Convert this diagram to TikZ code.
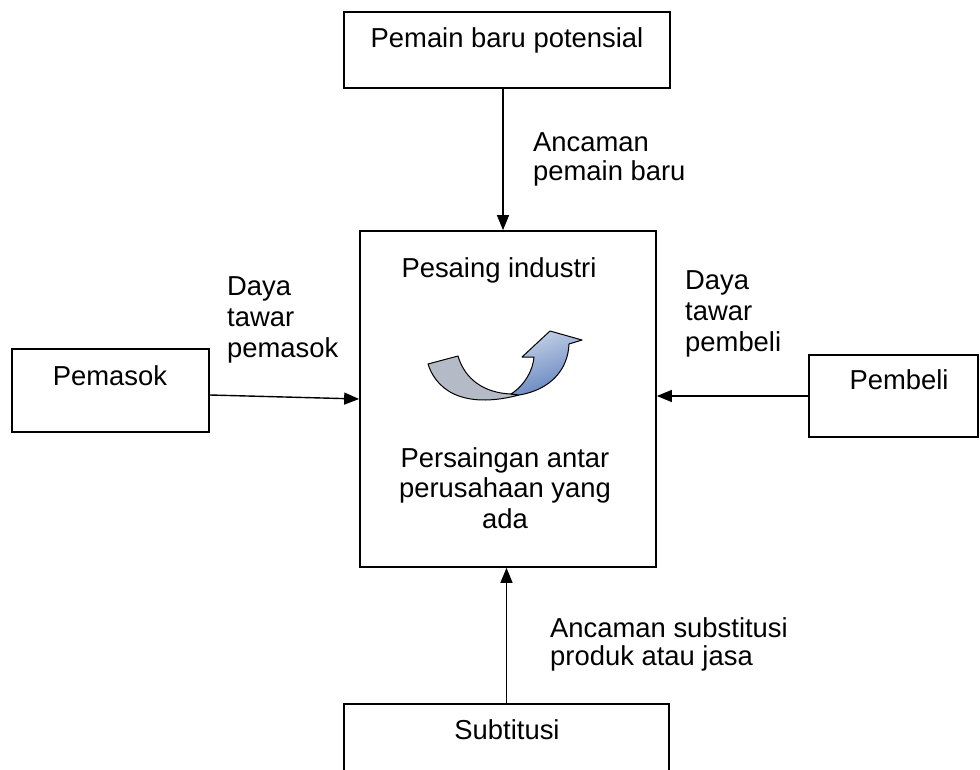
\documentclass[tikz,border=0pt]{standalone}
\usepackage{fontspec}
\setmainfont{Liberation Sans}
\usetikzlibrary{arrows.meta}
\tikzset{
  box/.style={draw=black, line width=1.7pt, rectangle, inner sep=0pt, fill=none},
  arr/.style={line width=1.4pt, -{Triangle[length=15pt,width=12pt]}},
  lbl/.style={inner sep=0pt, font=\fontsize{27.4}{30.5}\selectfont},
}
\begin{document}
\begin{tikzpicture}[x=1pt,y=-1pt]
\useasboundingbox (0,0) rectangle (980,770);
\clip (0,0) rectangle (980,770);
\fill[white] (0,0) rectangle (980,770);
% boxes
\node[box, minimum width=326pt, minimum height=76pt] (top) at (507,50) {};
\node[box, minimum width=296pt, minimum height=336pt] (ctr) at (508,399) {};
\node[box, minimum width=197pt, minimum height=83pt] (pem) at (110.5,390.5) {};
\node[box, minimum width=169pt, minimum height=82pt] (pbl) at (893.5,396) {};
\node[box, minimum width=325pt, minimum height=96pt] (sub) at (506.5,752) {};
% box texts
\node[lbl, anchor=base] (ttop) at (507,48) {Pemain baru potensial};
\node[lbl, anchor=base] (tpes) at (499,277) {Pesaing industri};
\node[lbl, anchor=base] (tper1) at (505,467) {Persaingan antar};
\node[lbl, anchor=base] (tper2) at (505,497) {perusahaan yang};
\node[lbl, anchor=base] (tper3) at (505,528) {ada};
\node[lbl, anchor=base] (tpem) at (110,385) {Pemasok};
\node[lbl, anchor=base] (tpbl) at (899,389) {Pembeli};
\node[lbl, anchor=base] (tsub) at (507,739) {Subtitusi};
% connector labels
\node[lbl, anchor=base west] (l1a) at (533,152) {Ancaman};
\node[lbl, anchor=base west] (l1b) at (533,181) {pemain baru};
\node[lbl, anchor=base west] (l2a) at (227,295) {Daya};
\node[lbl, anchor=base west] (l2b) at (227,326) {tawar};
\node[lbl, anchor=base west] (l2c) at (227,357) {pemasok};
\node[lbl, anchor=base west] (l3a) at (685,289) {Daya};
\node[lbl, anchor=base west] (l3b) at (685,320) {tawar};
\node[lbl, anchor=base west] (l3c) at (685,351) {pembeli};
\node[lbl, anchor=base west] (l4a) at (550,637) {Ancaman substitusi};
\node[lbl, anchor=base west] (l4b) at (550,665) {produk atau jasa};
% connectors
\draw[arr] ([xshift=-4pt]top.south) -- ([xshift=-4pt]top.south |- ctr.north);
\draw[arr] ([yshift=-4.5pt]pem.east) -- (ctr.west);
\draw[arr] (pbl.west) -- (pbl.west -| ctr.east);
\draw[arr] (sub.north) -- (sub.north |- ctr.south);
% curved ribbon arrow icon
\fill[fill={rgb,255:red,180;green,187;blue,198}, draw=black, line width=1pt, line join=round]
  (428,364) -- (458,356) .. controls (465,380) and (485,393) .. (511,394)
  -- (519,395) .. controls (470,408) and (438,395) .. (428,364) -- cycle;
\shade[top color={rgb,255:red,196;green,210;blue,232}, bottom color={rgb,255:red,96;green,128;blue,188}, shading angle=20]
  (511,394) .. controls (525,385) and (533,370) .. (534,357) -- (522,357) -- (550,331)
  -- (582,340) -- (569,344) .. controls (568,370) and (550,390) .. (519,395) -- cycle;
\draw[black, line width=1pt, line join=round]
  (511,394) .. controls (525,385) and (533,370) .. (534,357) -- (522,357) -- (550,331)
  -- (582,340) -- (569,344) .. controls (568,370) and (550,390) .. (519,395) -- cycle;
\end{tikzpicture}
\end{document}
